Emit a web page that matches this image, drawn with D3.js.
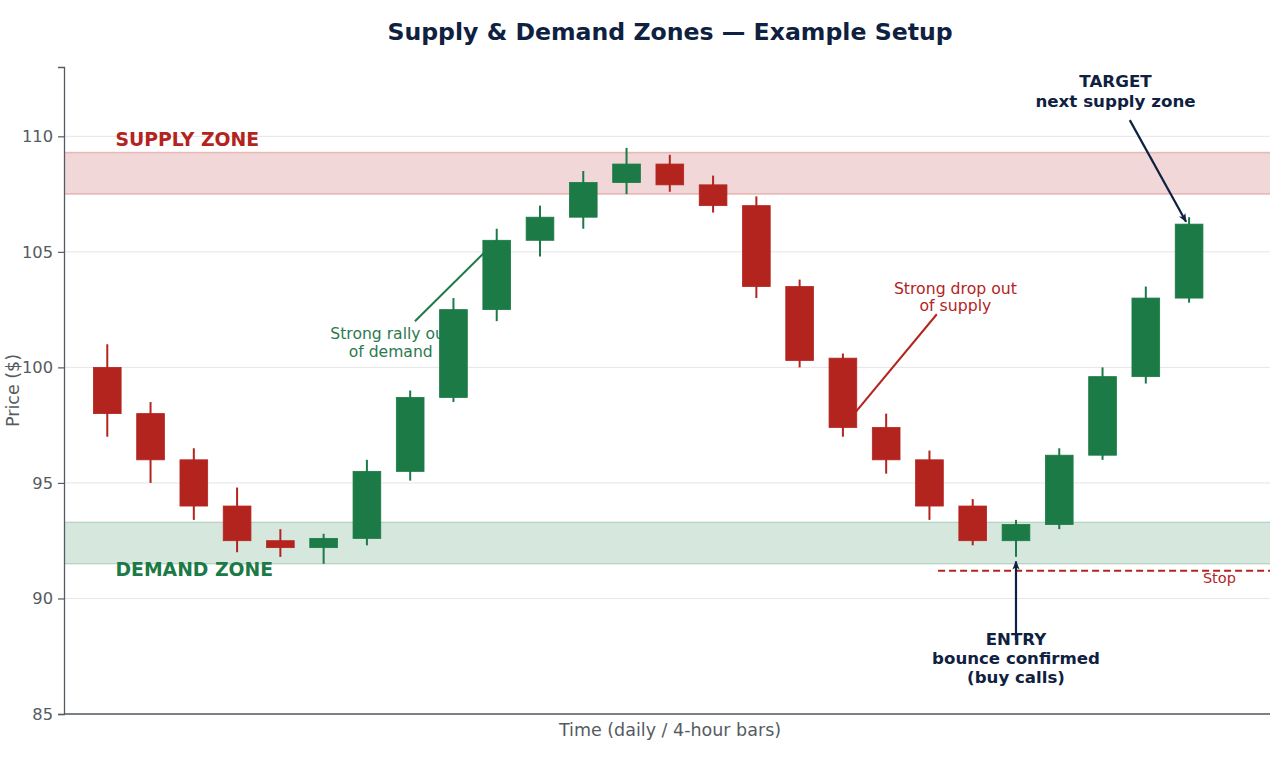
<!DOCTYPE html>
<html>
<head>
<meta charset="utf-8">
<script src="https://cdn.jsdelivr.net/npm/d3@7"></script>
<style>
  html, body { margin: 0; padding: 0; background: #ffffff; }
  svg { display: block; font-family: "DejaVu Sans", sans-serif; }
</style>
</head>
<body>
<svg id="chart" width="1270" height="760"></svg>
<script>
// ---- data ----
const opens  = [100, 98, 96, 94, 92.5, 92.2, 92.6, 95.5, 98.7, 102.5, 105.5, 106.5, 108, 108.8, 107.9, 107, 103.5, 100.4, 97.4, 96, 94, 92.5, 93.2, 96.2, 99.6, 103];
const closes = [98, 96, 94, 92.5, 92.2, 92.6, 95.5, 98.7, 102.5, 105.5, 106.5, 108, 108.8, 107.9, 107, 103.5, 100.3, 97.4, 96, 94, 92.5, 93.2, 96.2, 99.6, 103, 106.2];
const highs  = [101, 98.5, 96.5, 94.8, 93, 92.8, 96, 99, 103, 106, 107, 108.5, 109.5, 109.2, 108.3, 107.4, 103.8, 100.6, 98, 96.4, 94.3, 93.4, 96.5, 100, 103.5, 106.5];
const lows   = [97, 95, 93.4, 92, 91.8, 91.5, 92.3, 95.1, 98.5, 102, 104.8, 106, 107.5, 107.6, 106.7, 103, 100, 97, 95.4, 93.4, 92.3, 91.8, 93, 96, 99.3, 102.8];
const yTicks = [85, 90, 95, 100, 105, 110];
const supplyZone = [107.5, 109.3];
const demandZone = [91.5, 93.3];
const stopLevel = 91.2;

const svg = d3.select("#chart");
const pLeft = 64, pRight = 1270, pTop = 67, pBottom = 714;

const x = d3.scaleLinear().domain([-1, 26.87]).range([pLeft, pRight]);
const y = d3.scaleLinear().domain([85, 113]).range([pBottom, pTop]);

const RED = "#b3241f", GREEN = "#1b7a45", NAVY = "#0f2140", GREY = "#555b63";

// defs
const defs = svg.append("defs");
defs.append("marker").attr("id", "arrowNavy")
  .attr("viewBox", "0 0 10 10").attr("refX", 9).attr("refY", 5)
  .attr("markerWidth", 9).attr("markerHeight", 9).attr("markerUnits", "userSpaceOnUse")
  .attr("orient", "auto")
  .append("path").attr("d", "M0,1 L10,5 L0,9 L2.5,5 Z").attr("fill", NAVY);
const clip = defs.append("clipPath").attr("id", "plotclip");
clip.append("rect").attr("x", pLeft).attr("y", pTop).attr("width", pRight - pLeft).attr("height", pBottom - pTop);

// grid
svg.append("g").selectAll("line").data(yTicks).join("line")
  .attr("x1", pLeft).attr("x2", pRight)
  .attr("y1", d => y(d)).attr("y2", d => y(d))
  .attr("stroke", "#e6e6e6").attr("stroke-width", 1);

// zones
const zones = svg.append("g").attr("clip-path", "url(#plotclip)");
zones.append("rect").attr("x", pLeft).attr("width", pRight - pLeft + 10)
  .attr("y", y(supplyZone[1])).attr("height", y(supplyZone[0]) - y(supplyZone[1]))
  .attr("fill", RED).attr("fill-opacity", 0.18)
  .attr("stroke", RED).attr("stroke-opacity", 0.25).attr("stroke-width", 1.5);
zones.append("rect").attr("x", pLeft).attr("width", pRight - pLeft + 10)
  .attr("y", y(demandZone[1])).attr("height", y(demandZone[0]) - y(demandZone[1]))
  .attr("fill", GREEN).attr("fill-opacity", 0.18)
  .attr("stroke", GREEN).attr("stroke-opacity", 0.2).attr("stroke-width", 1.5);

// zone labels
svg.append("text").attr("x", x(0.19)).attr("y", y(110) + 10)
  .attr("fill", RED).attr("font-size", 18.8).attr("font-weight", "bold").text("SUPPLY ZONE");
svg.append("text").attr("x", x(0.19)).attr("y", y(91.0) + 1)
  .attr("fill", GREEN).attr("font-size", 18.8).attr("font-weight", "bold").text("DEMAND ZONE");

// stop line
svg.append("line").attr("x1", x(19.2)).attr("x2", pRight)
  .attr("y1", y(stopLevel)).attr("y2", y(stopLevel))
  .attr("stroke", RED).attr("stroke-width", 2).attr("stroke-dasharray", "7,4");
svg.append("text").attr("x", x(25.7)).attr("y", y(stopLevel) + 12)
  .attr("text-anchor", "middle").attr("fill", RED).attr("font-size", 14.5).text("Stop");

// annotations (under candles)
const ann = svg.append("g");
ann.append("line").attr("x1", x(7.11)).attr("y1", y(102.0)).attr("x2", x(9)).attr("y2", y(105.5))
  .attr("stroke", GREEN).attr("stroke-width", 2);
const rally = ann.append("text").attr("text-anchor", "middle").attr("fill", "#2a7a4f").attr("font-size", 15.6);
rally.append("tspan").attr("x", x(6.55)).attr("y", 339).text("Strong rally out");
rally.append("tspan").attr("x", x(6.55)).attr("y", 357).text("of demand");
ann.append("line").attr("x1", x(19.17)).attr("y1", y(102.3)).attr("x2", x(17)).attr("y2", y(97.4))
  .attr("stroke", RED).attr("stroke-width", 2);
const drop = ann.append("text").attr("text-anchor", "middle").attr("fill", RED).attr("font-size", 15.7);
drop.append("tspan").attr("x", x(19.6)).attr("y", 294).text("Strong drop out");
drop.append("tspan").attr("x", x(19.6)).attr("y", 311).text("of supply");

// candles
const idx = d3.range(opens.length);
const cg = svg.append("g");
const bw = 0.64 * (x(1) - x(0));
cg.selectAll("line.wick").data(idx).join("line").attr("class", "wick")
  .attr("x1", i => x(i)).attr("x2", i => x(i))
  .attr("y1", i => y(highs[i])).attr("y2", i => y(lows[i]))
  .attr("stroke", i => closes[i] >= opens[i] ? GREEN : RED).attr("stroke-width", 2);
cg.selectAll("rect.body").data(idx).join("rect").attr("class", "body")
  .attr("x", i => x(i) - bw / 2).attr("width", bw)
  .attr("y", i => y(Math.max(opens[i], closes[i])))
  .attr("height", i => Math.max(1, Math.abs(y(opens[i]) - y(closes[i]))))
  .attr("fill", i => closes[i] >= opens[i] ? GREEN : RED)
  .attr("stroke", i => closes[i] >= opens[i] ? GREEN : RED).attr("stroke-width", 0.8);

// entry annotation
svg.append("line").attr("x1", x(21)).attr("x2", x(21))
  .attr("y1", y(88.2)).attr("y2", y(91.6))
  .attr("stroke", NAVY).attr("stroke-width", 2.2).attr("marker-end", "url(#arrowNavy)");
const entry = svg.append("text").attr("text-anchor", "middle").attr("fill", NAVY)
  .attr("font-size", 16.6).attr("font-weight", "bold");
entry.append("tspan").attr("x", x(21)).attr("y", 645).text("ENTRY");
entry.append("tspan").attr("x", x(21)).attr("y", 664).text("bounce confirmed");
entry.append("tspan").attr("x", x(21)).attr("y", 683).text("(buy calls)");

// target annotation
svg.append("line").attr("x1", x(23.63)).attr("y1", y(110.7)).attr("x2", x(24.93)).attr("y2", y(106.3))
  .attr("stroke", NAVY).attr("stroke-width", 2.2).attr("marker-end", "url(#arrowNavy)");
const target = svg.append("text").attr("text-anchor", "middle").attr("fill", NAVY)
  .attr("font-size", 16.7).attr("font-weight", "bold");
target.append("tspan").attr("x", x(23.3)).attr("y", 87).text("TARGET");
target.append("tspan").attr("x", x(23.3)).attr("y", 107).text("next supply zone");

// axes
const yAxis = d3.axisLeft(y).tickValues(yTicks).tickSize(6).tickPadding(5).tickFormat(d3.format("d"));
const yg = svg.append("g").attr("transform", `translate(${pLeft},0)`).call(yAxis);
yg.select(".domain").attr("stroke", GREY).attr("stroke-width", 1.3);
yg.selectAll(".tick line").attr("stroke", GREY).attr("stroke-width", 1.2);
yg.selectAll(".tick text").attr("fill", GREY).attr("font-size", 16.3).attr("font-family", "DejaVu Sans");

svg.append("line").attr("x1", pLeft).attr("x2", pRight).attr("y1", pBottom).attr("y2", pBottom)
  .attr("stroke", GREY).attr("stroke-width", 1.3);

// labels
svg.append("text").attr("x", 670).attr("y", 736).attr("text-anchor", "middle")
  .attr("fill", GREY).attr("font-size", 17.5).text("Time (daily / 4-hour bars)");
svg.append("text").attr("transform", `translate(19,${(pTop + pBottom) / 2}) rotate(-90)`)
  .attr("text-anchor", "middle").attr("fill", GREY).attr("font-size", 17.5).text("Price ($)");
svg.append("text").attr("x", 670).attr("y", 40).attr("text-anchor", "middle")
  .attr("fill", NAVY).attr("font-size", 23.6).attr("font-weight", "bold")
  .text("Supply & Demand Zones — Example Setup");
</script>
</body>
</html>
